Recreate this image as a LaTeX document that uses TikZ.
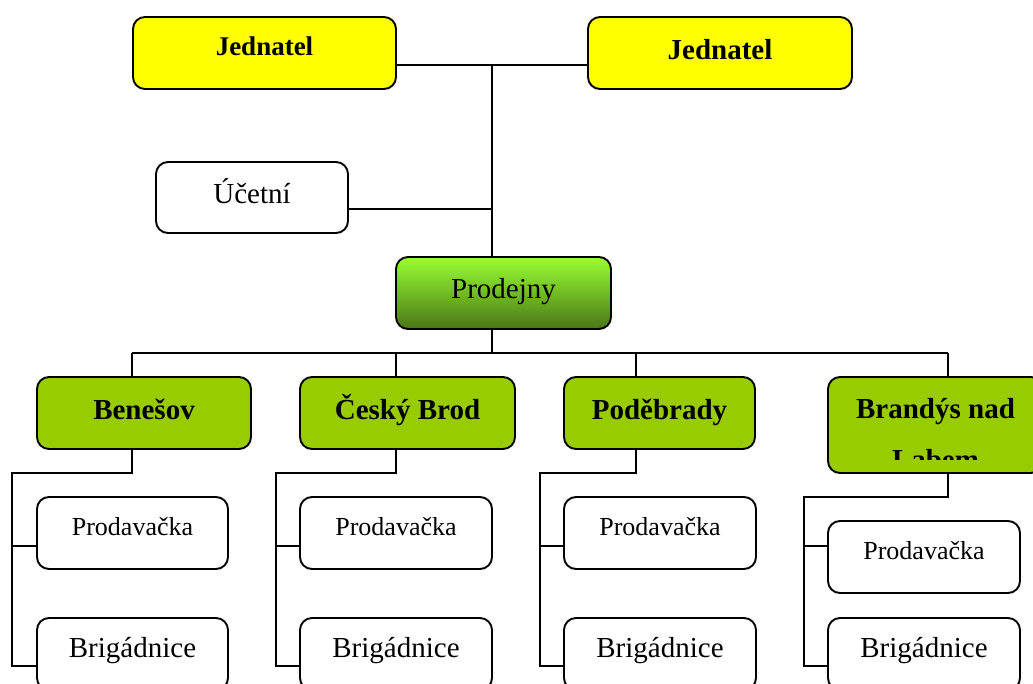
\documentclass[tikz,border=0pt]{standalone}
\usepackage{fontspec}
\setmainfont{Liberation Serif}
\definecolor{jyellow}{RGB}{255,255,0}
\definecolor{bgreen}{RGB}{153,204,0}
\definecolor{gtop}{RGB}{153,255,51}
\definecolor{gmid}{RGB}{125,215,40}
\definecolor{gbot}{RGB}{74,118,24}
\begin{document}
\begin{tikzpicture}[x=1pt,y=-1pt,
  box/.style={draw=black, line width=1.9pt, rounded corners=12pt, minimum height=72pt, inner sep=0pt},
  wbox/.style={box, fill=white},
  ybox/.style={box, fill=jyellow},
  gbox/.style={box, fill=bgreen},
  txt/.style={inner sep=0pt, anchor=base, font=\fontsize{29}{34}\selectfont},
  stxt/.style={inner sep=0pt, anchor=base, font=\fontsize{26}{30}\selectfont},
  btxt/.style={inner sep=0pt, anchor=base, font=\fontsize{29}{34}\selectfont\bfseries},
  sbtxt/.style={inner sep=0pt, anchor=base, font=\fontsize{27}{32}\selectfont\bfseries},
  conn/.style={line width=1.9pt, line join=miter}]
\clip (0,0) rectangle (1033,684);
\fill[white] (0,0) rectangle (1033,684);
% top level
\node[ybox, minimum width=263pt] (j1) at (264.5,53) {};
\node[ybox, minimum width=264pt] (j2) at (720,53) {};
\node[wbox, minimum width=192pt, minimum height=71pt] (uc) at (252,197.5) {};
\node[box, minimum width=215pt, top color=gtop, middle color=gmid, bottom color=gbot] (pr) at (503.5,293) {};
% branches
\node[gbox, minimum width=214pt] (b1) at (144,413) {};
\node[gbox, minimum width=215pt] (b2) at (407.5,413) {};
\node[gbox, minimum width=191pt] (b3) at (659.5,413) {};
\node[gbox, minimum width=215pt, minimum height=96pt] (b4) at (935.5,425) {};
% staff
\node[wbox, minimum width=191pt] (p1) at (132.5,533) {};
\node[wbox, minimum width=192pt] (p2) at (396,533) {};
\node[wbox, minimum width=192pt] (p3) at (660,533) {};
\node[wbox, minimum width=192pt] (p4) at (924,557) {};
\node[wbox, minimum width=191pt] (q1) at (132.5,654) {};
\node[wbox, minimum width=192pt] (q2) at (396,654) {};
\node[wbox, minimum width=192pt] (q3) at (660,654) {};
\node[wbox, minimum width=192pt] (q4) at (924,654) {};
% texts
\node[sbtxt] at ([yshift=-39pt]j1.north) {Jednatel};
\node[btxt] at ([yshift=-43pt]j2.north) {Jednatel};
\node[txt] at ([yshift=-42pt]uc.north) {Účetní};
\node[txt] at ([yshift=-42pt]pr.north) {Prodejny};
\node[btxt] at ([yshift=-43pt]b1.north) {Benešov};
\node[btxt] at ([yshift=-43pt]b2.north) {Český Brod};
\node[btxt] at ([yshift=-43pt]b3.north) {Poděbrady};
\begin{scope}
\clip (828,377) rectangle (1043,459);
\node[btxt] at ([yshift=-42pt]b4.north) {Brandýs nad};
\node[btxt] at ([yshift=-93pt]b4.north) {Labem};
\end{scope}
\foreach \n in {p1,p2,p3,p4}{\node[stxt] at ([yshift=-39pt]\n.north) {Prodavačka};}
\foreach \n in {q1,q2,q3,q4}{\node[txt] at ([yshift=-40pt]\n.north) {Brigádnice};}
% connectors top
\coordinate (h1) at (492,65);
\draw[conn] (j1.east |- h1) -- (j2.west |- h1);
\draw[conn] (h1) -- (h1 |- pr.north);
\coordinate (u1) at (492,209);
\draw[conn] (uc.east |- u1) -- (u1);
\coordinate (h2) at (492,353);
\draw[conn] (h2 |- pr.south) -- (h2);
\coordinate (hl) at (132,353);
\coordinate (hr) at (948,353);
\coordinate (c2) at (396,353);
\coordinate (c3) at (636,353);
\draw[conn] (hl) -- (hr);
\draw[conn] (hl) -- (hl |- b1.north);
\draw[conn] (c2) -- (c2 |- b2.north);
\draw[conn] (c3) -- (c3 |- b3.north);
\draw[conn] (hr) -- (hr |- b4.north);
% subtrees
\coordinate (d1) at (132,473); \coordinate (e1) at (12,473);
\coordinate (g1) at (12,546);  \coordinate (f1) at (12,666);
\coordinate (d2) at (396,473); \coordinate (e2) at (276,473);
\coordinate (g2) at (276,546); \coordinate (f2) at (276,666);
\coordinate (d3) at (636,473); \coordinate (e3) at (540,473);
\coordinate (g3) at (540,546); \coordinate (f3) at (540,666);
\coordinate (d4) at (948,497); \coordinate (e4) at (804,497);
\coordinate (g4) at (804,546); \coordinate (f4) at (804,666);
\draw[conn] (d1 |- b1.south) -- (d1) -- (e1) -- (f1) -- (f1 -| q1.west);
\draw[conn] (g1) -- (g1 -| p1.west);
\draw[conn] (d2 |- b2.south) -- (d2) -- (e2) -- (f2) -- (f2 -| q2.west);
\draw[conn] (g2) -- (g2 -| p2.west);
\draw[conn] (d3 |- b3.south) -- (d3) -- (e3) -- (f3) -- (f3 -| q3.west);
\draw[conn] (g3) -- (g3 -| p3.west);
\draw[conn] (d4 |- b4.south) -- (d4) -- (e4) -- (f4) -- (f4 -| q4.west);
\draw[conn] (g4) -- (g4 -| p4.west);
\end{tikzpicture}
\end{document}
